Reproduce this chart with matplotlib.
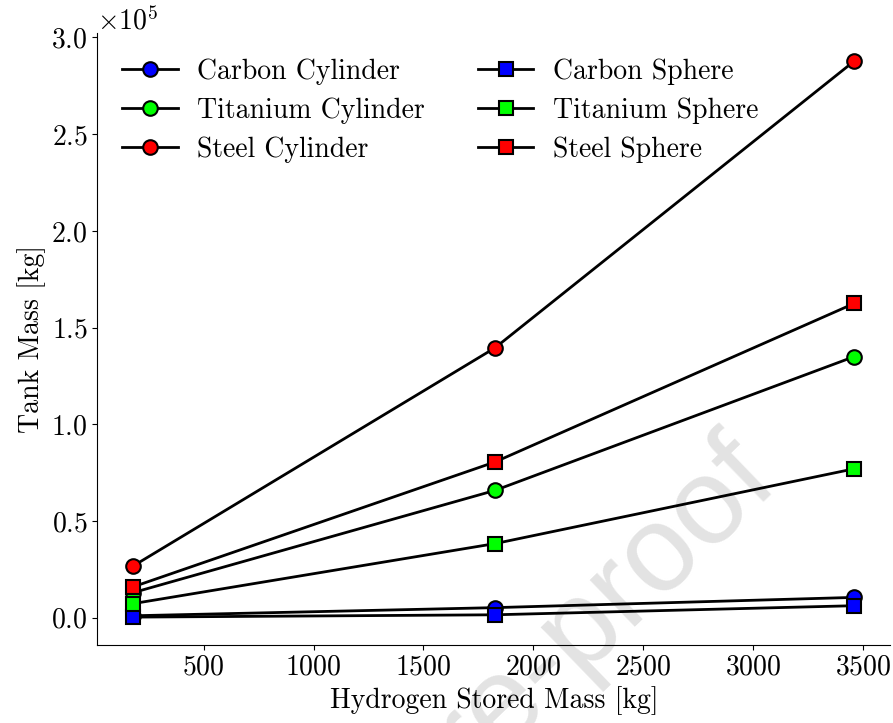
import matplotlib
matplotlib.use("Agg")
from matplotlib import pyplot as plt

plt.rcParams['font.family'] = 'serif'
plt.rcParams['font.serif'] = ['cmr10']
plt.rcParams['mathtext.fontset'] = 'cm'
plt.rcParams['axes.formatter.use_mathtext'] = True
plt.rcParams['font.size'] = 20

# hydrogen stored mass [kg]
h2_mass = [180, 1825, 3460]

# tank mass [kg]
carbon_cyl = [1000, 5200, 10500]
titanium_cyl = [13000, 65800, 135000]
steel_cyl = [26800, 139500, 287800]
carbon_sph = [300, 1500, 6200]
titanium_sph = [7300, 38300, 77000]
steel_sph = [16000, 80500, 162500]

fig = plt.figure(figsize=(8.93, 7.23), dpi=100)
ax = fig.add_axes([0.109, 0.108, 0.888, 0.846])
ax.patch.set_alpha(0)

mk = dict(color='black', lw=2, markersize=10.5, markeredgecolor='black', markeredgewidth=1.5)
ax.plot(h2_mass, carbon_cyl, marker='o', markerfacecolor='#0000ff', label='Carbon Cylinder', **mk)
ax.plot(h2_mass, titanium_cyl, marker='o', markerfacecolor='#00ff00', label='Titanium Cylinder', **mk)
ax.plot(h2_mass, steel_cyl, marker='o', markerfacecolor='#ff0000', label='Steel Cylinder', **mk)
ax.plot(h2_mass, carbon_sph, marker='s', markerfacecolor='#0000ff', label='Carbon Sphere', **mk)
ax.plot(h2_mass, titanium_sph, marker='s', markerfacecolor='#00ff00', label='Titanium Sphere', **mk)
ax.plot(h2_mass, steel_sph, marker='s', markerfacecolor='#ff0000', label='Steel Sphere', **mk)

ax.spines['top'].set_visible(False)
ax.spines['right'].set_visible(False)
ax.ticklabel_format(axis='y', style='sci', scilimits=(0, 0))
ax.set_xticks([500, 1000, 1500, 2000, 2500, 3000, 3500])
ax.set_xlabel('Hydrogen Stored Mass [kg]')
ax.set_ylabel('Tank Mass [kg]')
ax.legend(ncol=2, frameon=False, loc='upper left', bbox_to_anchor=(0.0, 1.0),
          columnspacing=1.9, handlelength=2.0, handletextpad=0.7, labelspacing=0.45)

# faint watermark behind the axes
fig.text(0.85, 0.36, 'Journal Pre-proof', family='Liberation Sans', fontsize=88,
         color='#e3e3e3', rotation=44, ha='right', va='center', rotation_mode='anchor', zorder=-1)

fig.savefig('out.png', dpi=100)
